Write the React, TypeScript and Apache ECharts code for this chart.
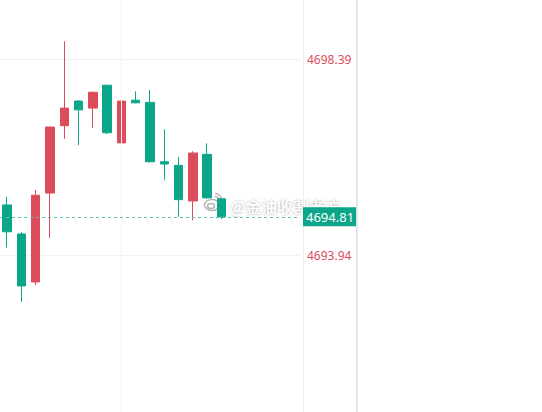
import React, { useEffect, useRef } from "react";
import * as echarts from "echarts";

const categories = ["1", "2", "3", "4", "5", "6", "7", "8", "9", "10", "11", "12", "13", "14", "15", "16", "17", "18", "19", "20", "21"];
// [open, close, low, high]
const opens = [4695.08, 4694.42, 4693.33, 4695.35, 4696.88, 4697.44, 4697.28, 4697.8, 4696.49, 4697.46, 4697.41, 4696.06, 4695.98, 4695.17, 4696.23, 4695.22];
const closes = [4694.47, 4693.24, 4695.3, 4696.85, 4697.28, 4697.24, 4697.64, 4696.72, 4697.44, 4697.4, 4696.06, 4696.01, 4695.2, 4696.26, 4695.24, 4694.81];
const lows = [4694.11, 4692.88, 4693.26, 4694.33, 4696.58, 4696.44, 4696.83, 4696.69, 4696.17, 4697.39, 4696.05, 4695.65, 4694.81, 4694.73, 4695.23, 4694.76];
const highs = [4695.26, 4694.46, 4695.42, 4696.86, 4698.8, 4697.46, 4697.65, 4697.81, 4697.87, 4697.66, 4697.69, 4696.8, 4696.17, 4696.3, 4696.48, 4695.24];
const tickValues = [4693.94, 4698.39];
const lastPrice = 4694.81;
const gridCategory = "9";
const watermarkText = "@金油收割老方";
const yMin = 4690.376;
const yMax = 4699.736;

const RED = "#dd4c5a";
const GREEN = "#0ba68a";

export default function App() {
  const ref = useRef<HTMLDivElement>(null);
  useEffect(() => {
    document.body.style.margin = "0";
    const chart = echarts.init(ref.current!, null, { renderer: "svg" });
    const data = opens.map((o, i) => [o, closes[i], lows[i], highs[i]]);
    chart.setOption({
      animation: false,
      backgroundColor: "#ffffff",
      grid: { left: 0, top: 0, bottom: 0, width: 300 },
      xAxis: {
        type: "category",
        data: categories,
        boundaryGap: true,
        axisLine: { show: false },
        axisTick: { show: false },
        axisLabel: { show: false },
        splitLine: { show: false },
      },
      yAxis: {
        type: "value",
        position: "right",
        offset: 3,
        min: yMin,
        max: yMax,
        axisLine: { show: true, lineStyle: { color: "#eeeeee", width: 1 } },
        axisTick: { show: false, customValues: tickValues },
        axisLabel: {
          customValues: tickValues,
          color: RED,
          fontSize: 12,
          fontFamily: "Noto Sans",
          margin: 4,
          padding: [4, 0, 0, 0],
          formatter: (v: number) => v.toFixed(2),
        },
        splitLine: { show: true, lineStyle: { color: "#f2f2f2", width: 1 } },
      },
      graphic: [
        { type: "rect", shape: { x: 356, y: 0, width: 2, height: 412 }, style: { fill: "#e1e4ea" }, z: 10 },
        {
          type: "group",
          z: 100,
          children: [
            { type: "ellipse", shape: { cx: 212, cy: 205, rx: 7.5, ry: 5.5 }, style: { fill: "rgba(255,255,255,0.85)", stroke: "#b5b5b5", lineWidth: 1.5 } },
            { type: "ellipse", shape: { cx: 211, cy: 206, rx: 3.5, ry: 2.5 }, style: { fill: "none", stroke: "#b5b5b5", lineWidth: 1.5 } },
            { type: "arc", shape: { cx: 215, cy: 200, r: 3.5, startAngle: -Math.PI / 2, endAngle: 0.2 }, style: { stroke: "#b5b5b5", lineWidth: 1.5, fill: "none" } },
            { type: "arc", shape: { cx: 215, cy: 200, r: 6.5, startAngle: -Math.PI / 2, endAngle: 0.3 }, style: { stroke: "#b5b5b5", lineWidth: 1.5, fill: "none" } },
            {
              type: "text",
              x: 230,
              y: 205.5,
              style: {
                text: watermarkText,
                fill: "#ffffff",
                fontSize: 16,
                fontFamily: "Noto Sans CJK SC",
                verticalAlign: "middle",
                textShadowColor: "rgba(0,0,0,0.4)",
                textShadowBlur: 2,
              },
            },
          ],
        },
      ],
      series: [
        {
          type: "candlestick",
          data,
          barWidth: 9,
          itemStyle: { color: RED, color0: GREEN, borderColor: RED, borderColor0: GREEN, borderWidth: 1 },
          markLine: {
            silent: true,
            symbol: ["none", "none"],
            data: [
              {
                xAxis: gridCategory,
                lineStyle: { type: "solid", color: "#f3f3f3", width: 1 },
                label: { show: false },
              },
            ],
          },
        },
        {
          type: "line",
          data: [],
          color: "#5cc2ae",
          z: 200,
          markLine: {
            silent: true,
            symbol: ["none", "none"],
            lineStyle: { type: [3, 3], color: "#5cc2ae", width: 1 },
            data: [
              {
                yAxis: lastPrice,
                label: {
                  show: true,
                  position: "end",
                  distance: 3,
                  formatter: lastPrice.toFixed(2),
                  color: "#ffffff",
                  backgroundColor: GREEN,
                  fontSize: 13,
                  fontFamily: "Noto Sans",
                  padding: [4, 3, 2, 3],
                },
              },
            ],
          },
        },
      ],
    });
    return () => chart.dispose();
  }, []);
  return <div ref={ref} style={{ width: 542, height: 412 }} />;
}
